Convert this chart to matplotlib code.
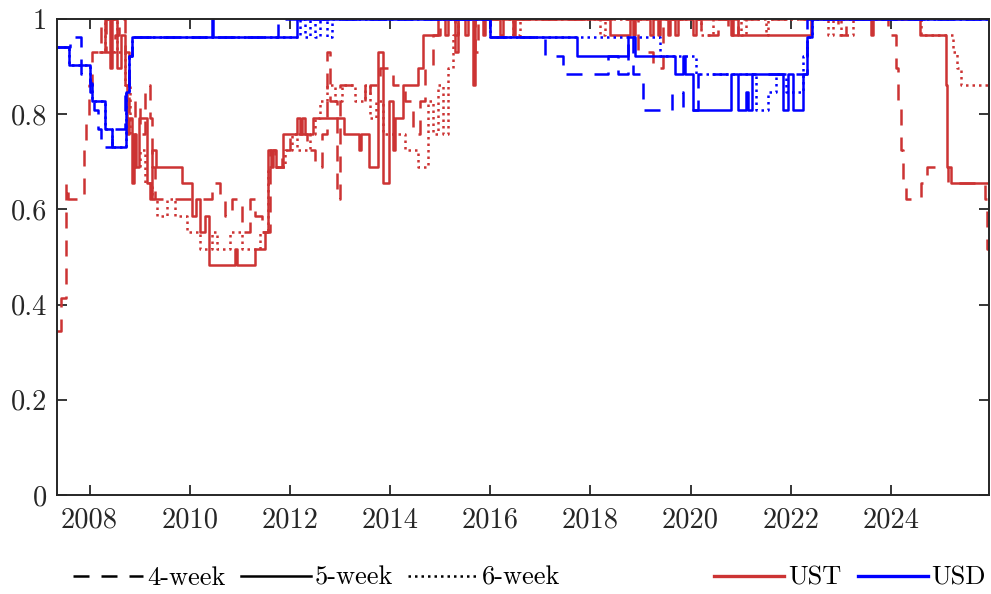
import matplotlib
matplotlib.use('Agg')
import matplotlib.pyplot as plt
from matplotlib.lines import Line2D
import numpy as np

# decimal year, share
ust_4w_t = [2007.35, 2007.42, 2007.52, 2007.56, 2007.88, 2007.92, 2007.98, 2008.05, 2008.22, 2008.32,
            2008.50, 2008.58, 2008.70, 2008.78, 2008.90, 2009.00, 2009.10, 2009.20, 2009.25, 2009.30,
            2010.45, 2010.60, 2010.70, 2010.85, 2011.05, 2011.20, 2011.30, 2011.45, 2011.60, 2011.70,
            2011.85, 2012.00, 2012.35, 2012.50, 2012.65, 2012.75, 2012.80, 2012.95, 2013.00, 2013.50,
            2013.60, 2013.80, 2014.05, 2014.30, 2014.45, 2014.60, 2014.70, 2014.85, 2015.00, 2015.30,
            2015.35, 2015.70, 2015.75, 2018.95, 2019.25, 2019.45, 2020.20, 2020.55, 2020.75, 2020.95,
            2022.95, 2023.10, 2023.95, 2024.10, 2024.15, 2024.20, 2024.25, 2024.30, 2024.60, 2024.72,
            2025.15, 2025.88, 2025.92, 2025.96]
ust_4w_v = [0.345, 0.414, 0.655, 0.621, 0.724, 0.793, 0.862, 0.931, 1.000, 0.931,
            0.966, 1.000, 0.931, 0.793, 0.828, 0.759, 0.862, 0.793, 0.690, 0.621,
            0.655, 0.621, 0.586, 0.621, 0.552, 0.621, 0.586, 0.552, 0.724, 0.690,
            0.724, 0.759, 0.724, 0.690, 0.759, 0.931, 0.828, 0.621, 0.862, 0.828,
            0.862, 0.897, 0.862, 0.828, 0.759, 0.828, 0.897, 0.966, 1.000, 0.966,
            1.000, 0.931, 1.000, 0.931, 0.897, 1.000, 0.966, 1.000, 0.966, 1.000,
            0.966, 1.000, 0.966, 0.897, 0.828, 0.724, 0.655, 0.621, 0.655, 0.690,
            0.655, 0.621, 0.517, 0.517]

ust_5w_t = [2008.20, 2008.30, 2008.40, 2008.45, 2008.55, 2008.62, 2008.70, 2008.74, 2008.78, 2008.84,
            2008.88, 2008.92, 2008.98, 2009.15, 2009.20, 2009.25, 2009.32, 2009.85, 2010.05, 2010.12,
            2010.20, 2010.30, 2010.38, 2010.90, 2010.95, 2011.30, 2011.50, 2011.57, 2011.62, 2011.67,
            2011.72, 2011.87, 2012.15, 2012.20, 2012.25, 2012.30, 2012.47, 2013.08, 2013.38, 2013.42,
            2013.58, 2013.75, 2013.86, 2013.97, 2014.05, 2014.10, 2014.25, 2014.55, 2014.65, 2014.95,
            2015.10, 2015.15, 2015.30, 2015.35, 2015.50, 2015.55, 2015.65, 2015.70, 2015.85, 2015.90,
            2016.20, 2016.25, 2016.45, 2016.50, 2018.40, 2018.80, 2018.85, 2018.90, 2019.20, 2019.25,
            2019.35, 2019.40, 2019.55, 2019.60, 2019.70, 2019.75, 2020.05, 2020.10, 2020.80, 2020.85,
            2020.95, 2022.40, 2023.60, 2023.65, 2024.58, 2025.10, 2025.13, 2025.20, 2025.96]
ust_5w_v = [0.931, 1.000, 0.897, 1.000, 0.897, 0.966, 0.862, 0.759, 0.793, 0.655,
            0.759, 0.690, 0.793, 0.655, 0.621, 0.724, 0.690, 0.655, 0.586, 0.621,
            0.552, 0.586, 0.483, 0.517, 0.483, 0.517, 0.552, 0.724, 0.690, 0.724,
            0.690, 0.759, 0.793, 0.759, 0.793, 0.759, 0.793, 0.759, 0.724, 0.759,
            0.690, 0.931, 0.655, 0.828, 0.724, 0.793, 0.862, 0.897, 0.966, 1.000,
            0.966, 1.000, 0.931, 1.000, 0.966, 1.000, 0.862, 1.000, 0.966, 1.000,
            0.966, 1.000, 0.966, 1.000, 0.966, 1.000, 0.966, 1.000, 0.966, 1.000,
            0.966, 1.000, 0.966, 1.000, 0.966, 1.000, 0.966, 1.000, 0.966, 1.000,
            0.966, 1.000, 0.966, 1.000, 0.966, 0.862, 0.690, 0.655, 0.655]

ust_6w_t = [2008.20, 2008.30, 2008.55, 2008.70, 2008.80, 2008.90, 2009.00, 2009.10, 2009.25, 2009.35,
            2009.55, 2009.70, 2009.95, 2010.20, 2010.45, 2010.55, 2010.80, 2011.05, 2011.40, 2011.57,
            2011.90, 2012.05, 2012.15, 2012.40, 2012.50, 2012.60, 2012.75, 2012.90, 2013.05, 2013.30,
            2013.50, 2013.60, 2013.72, 2013.85, 2014.30, 2014.55, 2014.75, 2014.85, 2014.95, 2015.05,
            2015.15, 2015.25, 2015.35, 2016.45, 2016.60, 2018.20, 2018.30, 2020.20, 2020.45, 2021.00,
            2021.10, 2021.50, 2021.55, 2022.75, 2022.85, 2023.00, 2023.25, 2024.60, 2025.25, 2025.32,
            2025.40, 2025.96]
ust_6w_v = [0.931, 1.000, 0.931, 0.862, 0.759, 0.690, 0.724, 0.655, 0.621, 0.586,
            0.621, 0.586, 0.552, 0.517, 0.552, 0.517, 0.552, 0.517, 0.552, 0.690,
            0.724, 0.759, 0.724, 0.759, 0.793, 0.828, 0.862, 0.828, 0.862, 0.828,
            0.862, 0.793, 0.828, 0.759, 0.724, 0.690, 0.828, 0.759, 0.862, 0.759,
            0.897, 0.966, 1.000, 0.966, 1.000, 0.966, 1.000, 0.966, 1.000, 0.966,
            1.000, 0.966, 1.000, 0.966, 1.000, 0.966, 1.000, 0.966, 0.931, 0.897,
            0.862, 0.862]

usd_4w_t = [2007.35, 2007.60, 2007.83, 2008.00, 2008.08, 2008.17, 2008.22, 2008.45, 2008.70, 2008.78,
            2008.85, 2011.77, 2016.00, 2017.10, 2017.45, 2018.35, 2018.55, 2018.75, 2018.85, 2019.05,
            2019.63, 2019.85, 2020.15, 2022.32, 2025.96]
usd_4w_v = [0.942, 0.962, 0.885, 0.846, 0.808, 0.769, 0.731, 0.769, 0.846, 0.923,
            0.962, 1.000, 0.962, 0.923, 0.885, 0.923, 0.885, 0.962, 0.885, 0.808,
            0.846, 0.808, 0.885, 1.000, 1.000]

usd_5w_t = [2007.35, 2007.58, 2008.00, 2008.05, 2008.30, 2008.45, 2008.72, 2008.78, 2008.85, 2010.44,
            2010.47, 2012.15, 2016.00, 2017.73, 2018.75, 2018.90, 2019.70, 2019.85, 2019.88, 2020.05,
            2020.80, 2020.95, 2021.10, 2021.15, 2021.23, 2021.85, 2021.95, 2022.05, 2022.25, 2022.32,
            2022.42, 2025.96]
usd_5w_v = [0.942, 0.904, 0.865, 0.827, 0.769, 0.731, 0.846, 0.923, 0.962, 1.000,
            0.962, 1.000, 0.962, 0.923, 0.962, 0.923, 0.885, 0.923, 0.885, 0.808,
            0.885, 0.808, 0.846, 0.808, 0.885, 0.808, 0.885, 0.808, 0.885, 0.962,
            1.000, 1.000]

usd_6w_t = [2007.35, 2007.58, 2008.00, 2008.05, 2008.30, 2008.45, 2008.72, 2008.78, 2008.85, 2012.20,
            2012.30, 2012.40, 2012.50, 2012.60, 2012.75, 2012.85, 2016.00, 2019.40, 2020.10, 2021.30,
            2021.55, 2021.70, 2021.90, 2022.25, 2022.33, 2022.42, 2025.96]
usd_6w_v = [0.942, 0.904, 0.865, 0.827, 0.769, 0.731, 0.846, 0.923, 0.962, 1.000,
            0.962, 1.000, 0.962, 1.000, 0.962, 1.000, 0.962, 0.923, 0.885, 0.808,
            0.846, 0.885, 0.846, 0.923, 0.962, 1.000, 1.000]

year_ticks = [2008, 2010, 2012, 2014, 2016, 2018, 2020, 2022, 2024]
share_ticks = [0, 0.2, 0.4, 0.6, 0.8, 1]

red = '#cc3333'
blue = '#0000ff'
lw = 1.8
dash = (0, (6.4, 4.8))
dot = (0, (1.0, 1.6))

plt.rcParams['font.family'] = 'cmr10'
plt.rcParams['mathtext.fontset'] = 'cm'
plt.rcParams['axes.formatter.use_mathtext'] = True
fzsize = 20.5
legsize = 19

fig = plt.figure(figsize=(9.91, 5.94), dpi=100)
ax = fig.add_axes([57 / 991, 1 - 495 / 594, (989 - 57) / 991, (495 - 19) / 594])

series = [(ust_4w_t, ust_4w_v, red, dash), (ust_5w_t, ust_5w_v, red, '-'), (ust_6w_t, ust_6w_v, red, dot),
          (usd_4w_t, usd_4w_v, blue, dash), (usd_5w_t, usd_5w_v, blue, '-'), (usd_6w_t, usd_6w_v, blue, dot)]
for t, v, c, ls in series:
    ax.plot(t, v, color=c, linestyle=ls, linewidth=lw, drawstyle='steps-post')

ax.set_xlim(2007.35, 2025.96)
ax.set_ylim(0, 1)
ax.set_xticks(year_ticks)
ax.set_xticklabels([str(y) for y in year_ticks])
ax.set_yticks(share_ticks)
ax.set_yticklabels(['%g' % s for s in share_ticks])
ax.tick_params(axis='both', direction='in', top=True, right=True, length=7, width=1.3,
               labelsize=fzsize, colors='#262626')
ax.tick_params(axis='x', pad=9)
ax.tick_params(axis='y', pad=7)
for sp in ax.spines.values():
    sp.set_linewidth(1.4)
    sp.set_color('#262626')

h1 = [Line2D([], [], color='k', linestyle=dash, linewidth=lw),
      Line2D([], [], color='k', linestyle='-', linewidth=lw),
      Line2D([], [], color='k', linestyle=dot, linewidth=lw)]
leg1 = fig.legend(h1, ['4-week', '5-week', '6-week'], loc='center left', bbox_to_anchor=(0.074, 0.027),
                  ncol=3, frameon=False, fontsize=legsize, handlelength=2.65, handletextpad=0.15,
                  columnspacing=0.57, borderpad=0, borderaxespad=0)
h2 = [Line2D([], [], color=red, linewidth=2.4), Line2D([], [], color=blue, linewidth=2.4)]
leg2 = fig.legend(h2, ['UST', 'USD'], loc='center right', bbox_to_anchor=(0.995, 0.027),
                  ncol=2, frameon=False, fontsize=legsize, handlelength=2.65, handletextpad=0.15,
                  columnspacing=0.62, borderpad=0, borderaxespad=0)

fig.savefig('out.png', dpi=100)
plt.close()
